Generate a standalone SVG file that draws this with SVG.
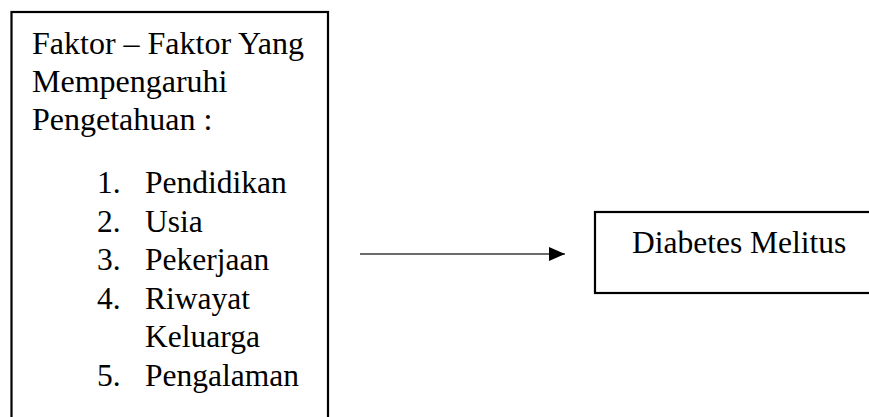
<svg xmlns="http://www.w3.org/2000/svg" width="869" height="417" viewBox="0 0 869 417">
<style>
.box{fill:#fff;stroke:#000;stroke-width:2.2}
.t{font-family:"Liberation Serif","Times New Roman",serif;font-size:32px;fill:#000}
.t2{font-family:"Liberation Serif","Times New Roman",serif;font-size:31.5px;fill:#000}
.conn{stroke:#3a3a3a;stroke-width:1.4;fill:none}
</style>
<defs>
<marker id="ah" markerWidth="16" markerHeight="14" refX="16" refY="7" orient="auto" markerUnits="userSpaceOnUse">
<path d="M0,0 L16,7 L0,14 Z" fill="#000"/>
</marker>
</defs>
<rect width="869" height="417" fill="#fff"/>
<g id="faktor">
<rect class="box" x="11.5" y="12" width="316.5" height="420"/>
<text class="t" x="32" y="53.5">Faktor – Faktor Yang</text>
<text class="t" x="32" y="92">Mempengaruhi</text>
<text class="t" x="32" y="130">Pengetahuan :</text>
<text class="t2" x="97" y="193">1.</text><text class="t2" x="145" y="193">Pendidikan</text>
<text class="t2" x="97" y="231.5">2.</text><text class="t2" x="145" y="231.5">Usia</text>
<text class="t2" x="97" y="270">3.</text><text class="t2" x="145" y="270">Pekerjaan</text>
<text class="t2" x="97" y="308.5">4.</text><text class="t2" x="145" y="308.5">Riwayat</text>
<text class="t2" x="145" y="347">Keluarga</text>
<text class="t2" x="97" y="386">5.</text><text class="t2" x="145" y="386">Pengalaman</text>
</g>
<g id="diabetes">
<rect class="box" x="595" y="212" width="290" height="81"/>
<text class="t2" x="632" y="252.5">Diabetes Melitus</text>
</g>
<g id="connectors">
<line class="conn" x1="360" y1="254" x2="565" y2="254" marker-end="url(#ah)"/>
</g>
</svg>
